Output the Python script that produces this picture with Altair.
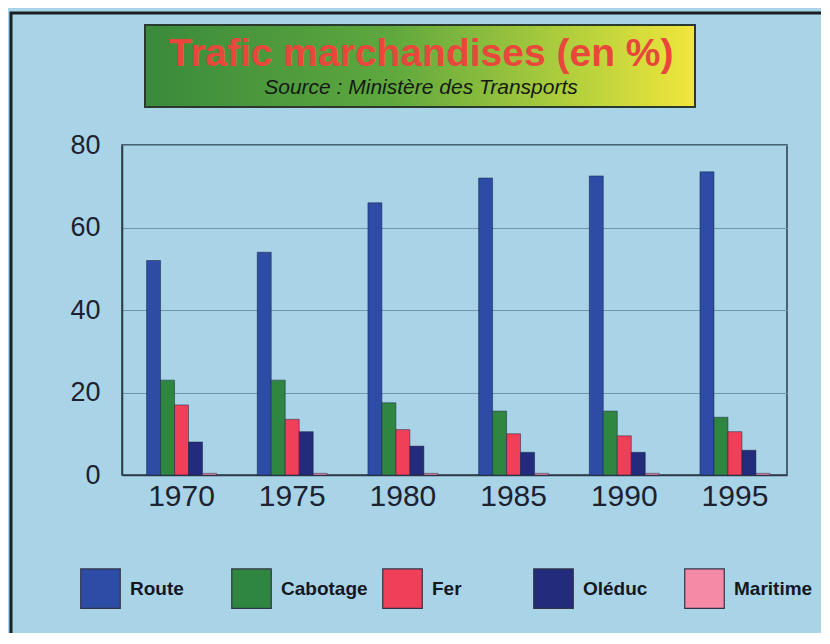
import altair as alt
import pandas as pd

# ---- data ----
YEARS = ["1970", "1975", "1980", "1985", "1990", "1995"]
SERIES = ["Route", "Cabotage", "Fer", "Oléduc", "Maritime"]
ROUTE = [52, 54, 66, 72, 72.5, 73.5]
CABOTAGE = [23, 23, 17.5, 15.5, 15.5, 14]
FER = [17, 13.5, 11, 10, 9.5, 10.5]
OLEDUC = [8, 10.5, 7, 5.5, 5.5, 6]
MARITIME = [0.4, 0.4, 0.4, 0.4, 0.4, 0.4]
COLORS = ["#2c4ca6", "#2f8641", "#f03f58", "#222b7c", "#f48aa6"]
Y_TICKS = [0, 20, 40, 60, 80]

TITLE = "Trafic marchandises (en %)"
SUBTITLE = "Source : Ministère des Transports"

FONT = "Liberation Sans"
BG = "#a9d4e8"

values = {"Route": ROUTE, "Cabotage": CABOTAGE, "Fer": FER,
          "Oléduc": OLEDUC, "Maritime": MARITIME}
rows = []
for s in SERIES:
    for y, v in zip(YEARS, values[s]):
        rows.append({"annee": y, "serie": s, "valeur": v})
df = pd.DataFrame(rows)

bars = alt.Chart(df).mark_bar(
    stroke="#1a2040", strokeWidth=0.7, strokeOpacity=0.7
).encode(
    x=alt.X("annee:N", sort=YEARS, title=None,
            scale=alt.Scale(paddingInner=0.368, paddingOuter=0.188, align=0.59),
            axis=alt.Axis(labelAngle=0, labelFontSize=30, labelFont=FONT,
                          labelColor="#1c2230", labelPadding=6, ticks=False,
                          domain=True, domainColor="#2e3b48", domainWidth=1.5,
                          grid=False)),
    xOffset=alt.XOffset("serie:N", sort=SERIES),
    y=alt.Y("valeur:Q", title=None,
            scale=alt.Scale(domain=[0, 80], nice=False),
            axis=alt.Axis(values=Y_TICKS, labelFontSize=27, labelFont=FONT,
                          labelColor="#1c2230", labelPadding=22, ticks=False,
                          domain=True, domainColor="#2e3b48", domainWidth=1.5,
                          grid=True, gridColor="#6f97ab", gridWidth=1)),
    color=alt.Color("serie:N", sort=SERIES,
                    scale=alt.Scale(domain=SERIES, range=COLORS),
                    legend=alt.Legend(
                        title=None, orient="none", direction="horizontal",
                        columns=5, gridAlign="all", legendX=-42, legendY=423,
                        symbolType="square", symbolSize=1560,
                        symbolStrokeColor="#333344", symbolStrokeWidth=1.2,
                        symbolOpacity=1, labelFont=FONT, labelFontSize=19,
                        labelFontWeight="bold", labelColor="#15181f",
                        labelOffset=9, columnPadding=12, padding=0,
                        labelLimit=200)),
)

grad = alt.LinearGradient(
    gradient="linear", x1=0, x2=1, y1=0, y2=0,
    stops=[alt.GradientStop(color="#3a8a3c", offset=0),
           alt.GradientStop(color="#5fa83e", offset=0.45),
           alt.GradientStop(color="#b8d23c", offset=0.8),
           alt.GradientStop(color="#f2e63c", offset=1)])

one = pd.DataFrame({"k": [0]})

frame = alt.Chart(one).mark_rect(fill=BG, fillOpacity=0, stroke="#1b1f24",
                                 strokeWidth=3).encode(
    x=alt.value(-111), x2=alt.value(800), y=alt.value(-132), y2=alt.value(540))

box = alt.Chart(one).mark_rect(color=grad, stroke="#2a3a2c", strokeWidth=2).encode(
    x=alt.value(23), x2=alt.value(573), y=alt.value(-120), y2=alt.value(-38))

title_txt = alt.Chart(one).mark_text(
    text=TITLE, font=FONT, fontSize=39, fontWeight="bold", color="#e8473c",
    align="center", baseline="middle").encode(x=alt.value(299), y=alt.value(-91))

sub_txt = alt.Chart(one).mark_text(
    text=SUBTITLE, font=FONT, fontSize=21, fontStyle="italic", color="#141a12",
    align="center", baseline="middle").encode(x=alt.value(299), y=alt.value(-57))

chart = alt.layer(frame, box, title_txt, sub_txt, bars).properties(
    width=665, height=330,
    autosize=alt.AutoSizeParams(type="none"),
    padding={"left": 114, "top": 137, "right": 34, "bottom": 158},
    background=BG,
).configure_view(stroke="#2e3b48", strokeWidth=1.5)

chart.save("out.html", embed_options={"renderer": "svg", "actions": False})
